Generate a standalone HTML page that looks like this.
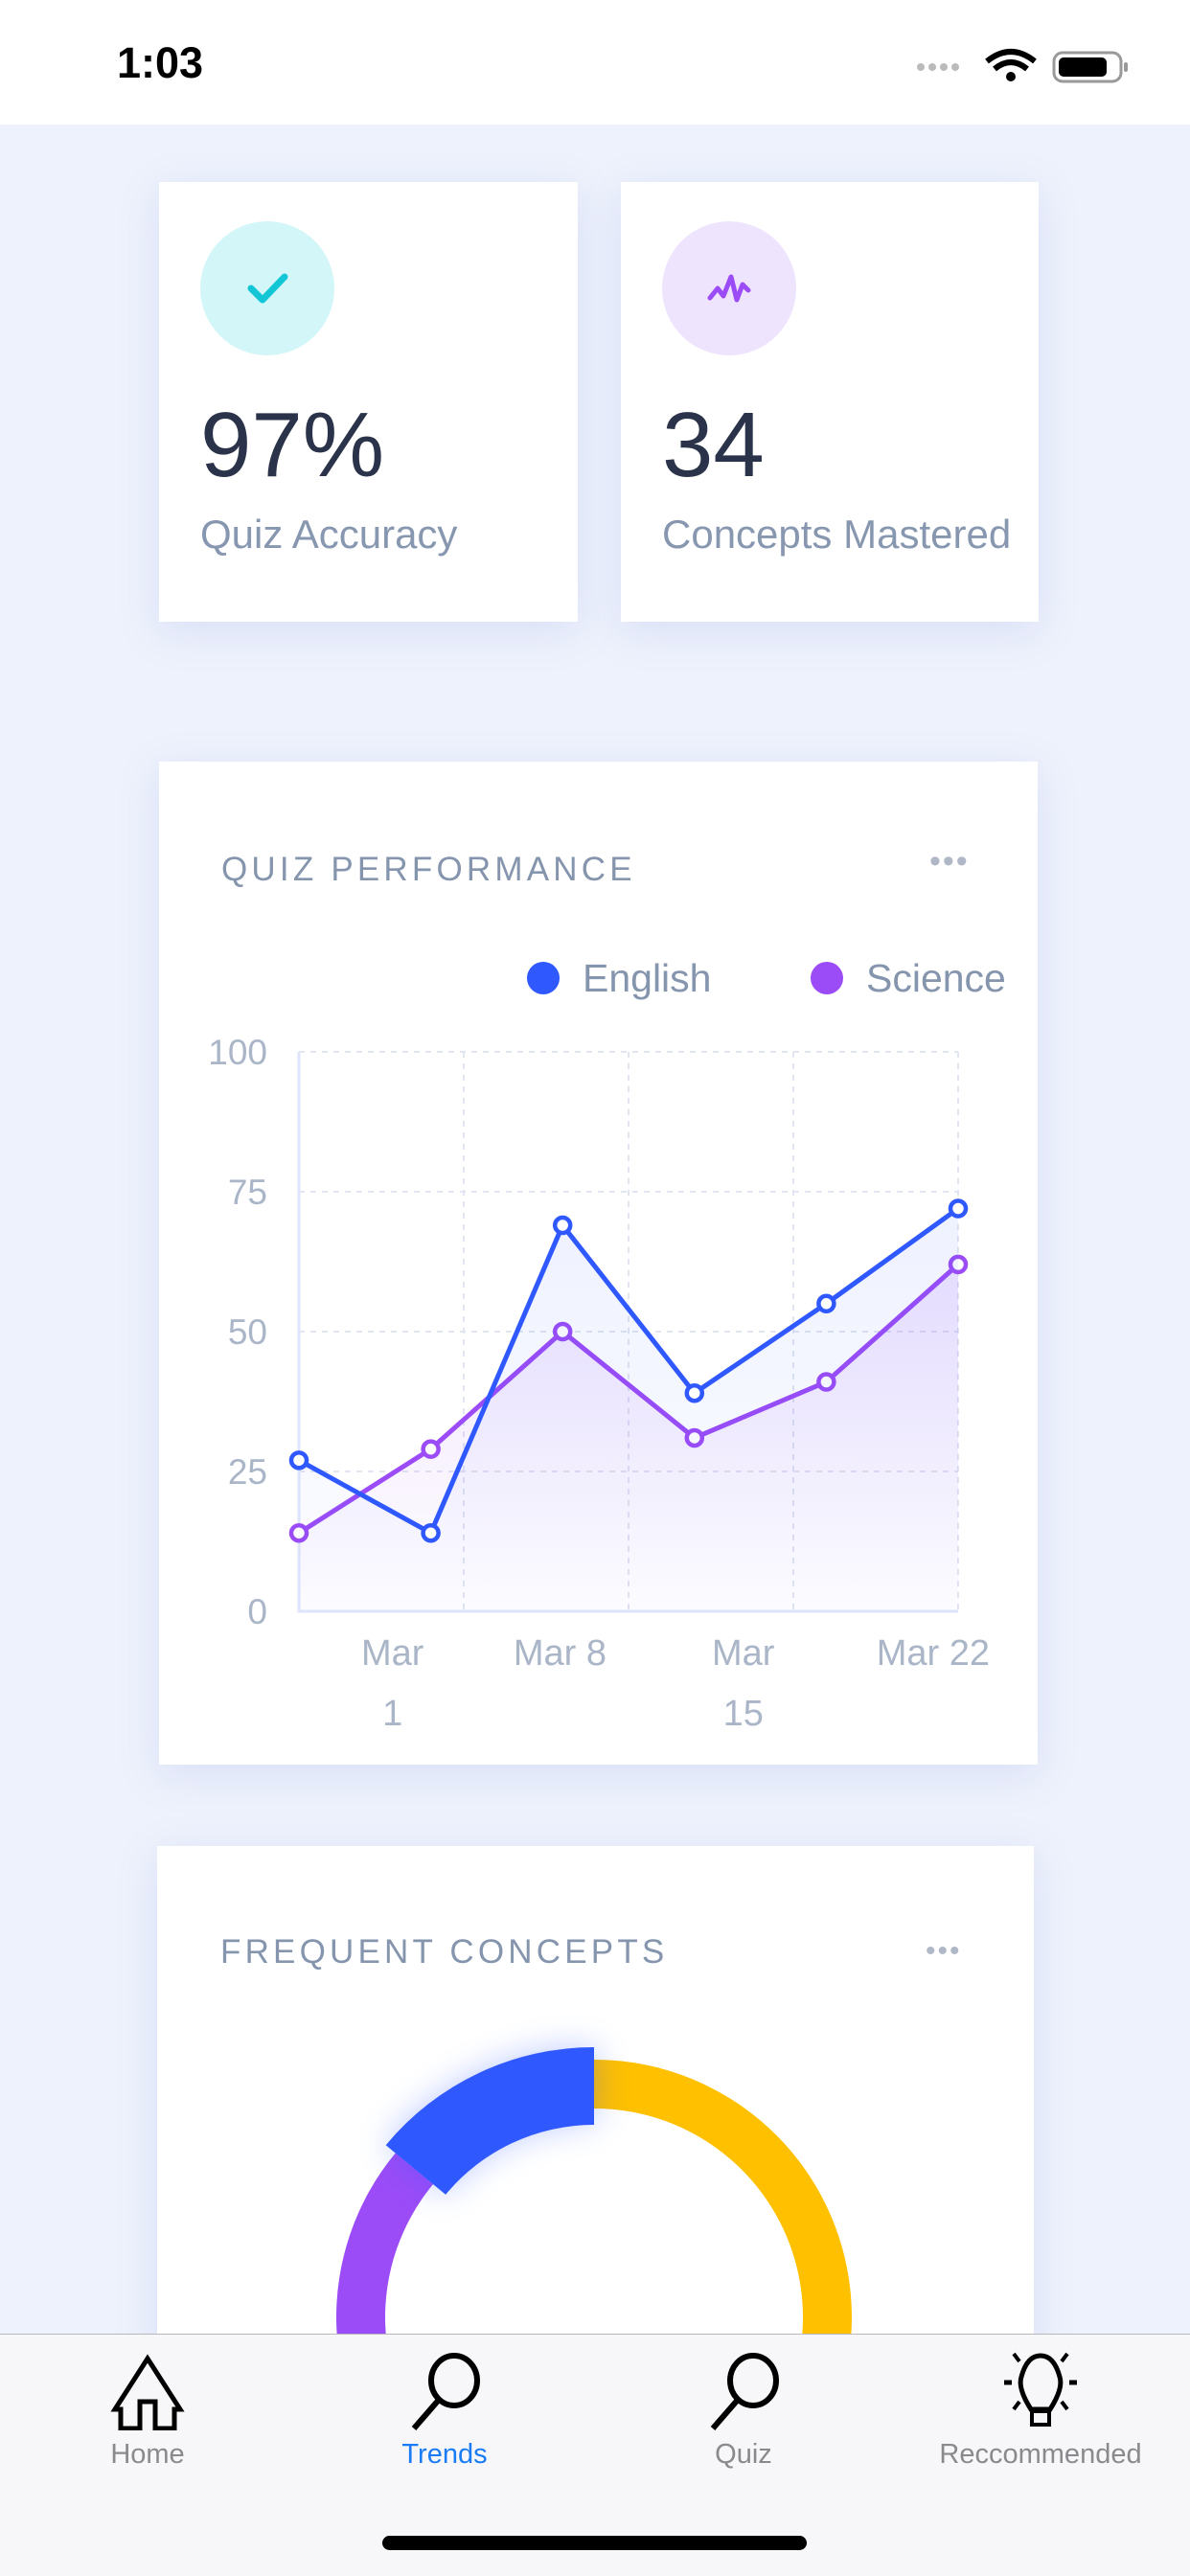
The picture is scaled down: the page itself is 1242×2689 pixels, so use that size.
<!DOCTYPE html>
<html><head><meta charset="utf-8">
<style>
html,body{margin:0;padding:0;}
body{width:1242px;height:2688px;position:relative;overflow:hidden;background:#eef2fc;font-family:"Liberation Sans",sans-serif;}
.status{position:absolute;left:0;top:0;width:1242px;height:130px;background:#fff;}
.card{position:absolute;background:#fff;box-shadow:0 10px 40px rgba(120,140,220,0.18);}
.abs{position:absolute;}
.tab{position:absolute;top:2436px;left:0;width:1242px;height:252px;background:#f7f7f9;border-top:1px solid #b8b8bc;}
.tablabel{position:absolute;top:109px;font-size:29px;color:#8a8a8e;transform:translateX(-50%);white-space:nowrap;}
</style></head><body>
<div class="status">
  <div class="abs" style="left:122px;top:40px;font-size:45px;font-weight:bold;color:#000">1:03</div>
  <svg class="abs" style="left:955px;top:50px" width="230" height="40">
    <circle cx="6" cy="20" r="4" fill="#bbb"/><circle cx="18" cy="20" r="4" fill="#bbb"/><circle cx="30" cy="20" r="4" fill="#bbb"/><circle cx="42" cy="20" r="4" fill="#bbb"/>
    <path d="M75 14 Q100 -6 125 14" stroke="#000" stroke-width="6" fill="none"/><path d="M83 22 Q100 8 117 22" stroke="#000" stroke-width="6" fill="none"/><circle cx="100" cy="30" r="5" fill="#000"/>
    <rect x="145" y="5" width="70" height="30" rx="9" fill="none" stroke="#999" stroke-width="3"/><rect x="150" y="10" width="50" height="20" rx="5" fill="#000"/><rect x="218" y="15" width="4" height="10" rx="2" fill="#999"/>
  </svg>
</div>

<div class="card" style="left:166px;top:190px;width:437px;height:459px">
  <div class="abs" style="left:43px;top:41px;width:140px;height:140px;border-radius:50%;background:#d3f6f8">
    <svg width="140" height="140"><path d="M53 70 L65 82 L88 58" stroke="#12c6d6" stroke-width="7" fill="none" stroke-linecap="round" stroke-linejoin="round"/></svg>
  </div>
  <div class="abs" style="left:43px;top:220px;font-size:96px;color:#2a3349">97%</div>
  <div class="abs" style="left:43px;top:344px;font-size:42px;color:#8797b0">Quiz Accuracy</div>
</div>
<div class="card" style="left:648px;top:190px;width:436px;height:459px">
  <div class="abs" style="left:43px;top:41px;width:140px;height:140px;border-radius:50%;background:#efe4fd">
    <svg width="140" height="140"><path d="M50 80 L58 70 L64 78 L72 58 L78 82 L84 66 L90 72" stroke="#9b4cf7" stroke-width="5" fill="none" stroke-linecap="round" stroke-linejoin="round"/></svg>
  </div>
  <div class="abs" style="left:43px;top:220px;font-size:96px;color:#2a3349">34</div>
  <div class="abs" style="left:43px;top:344px;font-size:42px;color:#8797b0">Concepts Mastered</div>
</div>

<div class="card" style="left:166px;top:795px;width:917px;height:1047px"></div>
<div class="abs" style="left:231px;top:888px;font-size:35px;letter-spacing:4.2px;color:#8595ad">QUIZ PERFORMANCE</div>
<div class="abs" style="left:970px;top:880px;font-size:34px;color:#b0b8c8;letter-spacing:2px">•••</div>
<svg id="chart" class="abs" style="left:0;top:0" width="1242" height="1900"></svg>

<div class="card" style="left:164px;top:1927px;width:915px;height:700px"></div>
<div class="abs" style="left:230px;top:2018px;font-size:35px;letter-spacing:4.2px;color:#8595ad">FREQUENT CONCEPTS</div>
<div class="abs" style="left:966px;top:2020px;font-size:30px;color:#b0b8c8;letter-spacing:2px">•••</div>
<svg id="donut" class="abs" style="left:0;top:0" width="1242" height="2688">
  <defs><filter id="glow" x="-50%" y="-50%" width="200%" height="200%"><feGaussianBlur stdDeviation="18"/></filter></defs>
</svg>

<div class="tab">
  <svg class="abs" style="left:112px;top:20px" width="84" height="80"><path d="M8 58 L42 5 L76 58 L70 58 L70 78 L50 78 L50 50 L34 50 L34 78 L14 78 L14 58 Z" stroke="#000" stroke-width="5" fill="none"/></svg>
  <svg class="abs" style="left:424px;top:18px" width="84" height="84"><ellipse cx="50" cy="30" rx="24" ry="26" stroke="#000" stroke-width="6" fill="none"/><line x1="34" y1="50" x2="8" y2="80" stroke="#000" stroke-width="6"/></svg>
  <svg class="abs" style="left:736px;top:18px" width="84" height="84"><ellipse cx="50" cy="30" rx="24" ry="26" stroke="#000" stroke-width="6" fill="none"/><line x1="34" y1="50" x2="8" y2="80" stroke="#000" stroke-width="6"/></svg>
  <svg class="abs" style="left:1044px;top:16px" width="84" height="88"><path d="M32 62 Q18 40 22 28 Q28 6 42 6 Q56 6 62 28 Q66 40 52 62 Z" stroke="#000" stroke-width="5" fill="none"/><rect x="33" y="64" width="18" height="14" stroke="#000" stroke-width="4" fill="none"/><line x1="4" y1="34" x2="12" y2="34" stroke="#000" stroke-width="5"/><line x1="72" y1="34" x2="80" y2="34" stroke="#000" stroke-width="5"/><line x1="14" y1="4" x2="20" y2="12" stroke="#000" stroke-width="4"/><line x1="70" y1="4" x2="64" y2="12" stroke="#000" stroke-width="4"/><line x1="14" y1="62" x2="20" y2="54" stroke="#000" stroke-width="4"/><line x1="70" y1="62" x2="64" y2="54" stroke="#000" stroke-width="4"/></svg>
  <div class="tablabel" style="left:154px">Home</div>
  <div class="tablabel" style="left:464px;color:#1a7cf5">Trends</div>
  <div class="tablabel" style="left:776px">Quiz</div>
  <div class="tablabel" style="left:1086px">Reccommended</div>
  <div class="abs" style="left:399px;top:210px;width:443px;height:15px;border-radius:8px;background:#000"></div>
</div>

<script>
const points = ["p1","p2","p3","p4","p5","p6"];
const englishValues = [27, 14, 69, 39, 55, 72];
const scienceValues = [14, 29, 50, 31, 41, 62];
const yTicks = [0, 25, 50, 75, 100];
const xTickLabels = [["Mar","1"],["Mar 8"],["Mar","15"],["Mar 22"]];
const xTickPos = [0.71, 1.98, 3.37, 4.81];
const conceptValues = [40, 46, 14];

const NS = "http://www.w3.org/2000/svg";
const svg = document.getElementById('chart');
const L = 312, R = 1000, T = 1098, B = 1682;
const x = i => L + (R - L) * i / (points.length - 1);
const y = v => B - (B - T) * v / 100;
function mk(tag, attrs, parent) {
  const e = document.createElementNS(NS, tag);
  for (const k in attrs) e.setAttribute(k, attrs[k]);
  (parent || svg).appendChild(e);
  return e;
}
const defs = mk('defs', {});
defs.innerHTML = '<linearGradient id="gE" x1="0" y1="0" x2="0" y2="1"><stop offset="0" stop-color="#3058ff" stop-opacity="0.08"/><stop offset="1" stop-color="#3058ff" stop-opacity="0.01"/></linearGradient><linearGradient id="gS" x1="0" y1="0" x2="0" y2="1"><stop offset="0" stop-color="#9b4cf7" stop-opacity="0.14"/><stop offset="1" stop-color="#9b4cf7" stop-opacity="0.01"/></linearGradient>';

yTicks.forEach(t => {
  if (t > 0) {
    const g = mk('line', {x1: L, x2: R, y1: y(t), y2: y(t), stroke: '#e1e6f2', 'stroke-width': 2, 'stroke-dasharray': '6 6'});
    
    
  }
  const tx = mk('text', {x: 279, y: y(t) + 13, 'text-anchor': 'end', 'font-size': 37, fill: '#aab6c8', 'font-family': 'Liberation Sans'});
  tx.textContent = t;
  
  
});
[1, 2, 3, 4].forEach(k => {
  const xx = L + (R - L) * k / 4;
  const g = mk('line', {x1: xx, x2: xx, y1: T, y2: B, stroke: '#e1e6f2', 'stroke-width': 2, 'stroke-dasharray': '6 6'});
  
  
});
const ax = mk('path', {d: `M${L} ${T} L${L} ${B} L${R} ${B}`, stroke: '#dfe6fb', 'stroke-width': 3, fill: 'none'});



xTickLabels.forEach((lab, i) => {
  const t = mk('text', {x: x(xTickPos[i]), y: 1738, 'text-anchor': 'middle', 'font-size': 38, fill: '#aab6c8', 'font-family': 'Liberation Sans'});
  lab.forEach((ln, j) => { const ts = mk('tspan', {x: x(xTickPos[i]), dy: j ? 63 : 0}, t); ts.textContent = ln; });
  
  
});

function series(vals, color, grad, name) {
  const pts = vals.map((v, i) => `${x(i)},${y(v)}`).join(' L');
  const area = mk('path', {d: `M${x(0)},${B} L${pts} L${x(vals.length - 1)},${B} Z`, fill: `url(#${grad})`});
  
  
  const ln = mk('path', {d: 'M' + pts, stroke: color, 'stroke-width': 5, fill: 'none', 'stroke-linejoin': 'round'});
  
  
  vals.forEach((v, i) => {
    const c = mk('circle', {cx: x(i), cy: y(v), r: 8, fill: '#fff', stroke: color, 'stroke-width': 4.5});
    
    
  });
}
series(scienceValues, '#9b4cf7', 'gS', 'science');
series(englishValues, '#3058ff', 'gE', 'english');

[[567, '#3058ff', 'English'], [863, '#9b4cf7', 'Science']].forEach(([lx, col, nm]) => {
  const c = mk('circle', {cx: lx, cy: 1021, r: 17, fill: col});
  
  
  const t = mk('text', {x: lx + 41, y: 1035, 'font-size': 41, fill: '#8595ad', 'font-family': 'Liberation Sans'});
  t.textContent = nm;
  
  
});

const dsvg = document.getElementById('donut');
const cx = 620, cy = 2419;
const total = conceptValues.reduce((a, b) => a + b, 0);
const colors = ['#ffc000', '#9b4cf7', '#2f58ff'];
function arcPath(a0, a1, ro, ri) {
  const p = (a, r) => `${cx + r * Math.cos(a)},${cy + r * Math.sin(a)}`;
  const large = (a1 - a0) > Math.PI ? 1 : 0;
  return `M${p(a0, ro)} A${ro},${ro} 0 ${large} 1 ${p(a1, ro)} L${p(a1, ri)} A${ri},${ri} 0 ${large} 0 ${p(a0, ri)} Z`;
}
let acc = 0;
conceptValues.forEach((v, i) => {
  const a0 = -Math.PI / 2 + 2 * Math.PI * acc / total;
  const a1 = -Math.PI / 2 + 2 * Math.PI * (acc + v) / total;
  acc += v;
  const big = i === 2;
  if (big) {
    const gl = mk('path', {d: arcPath(a0, a1, 280, 205), fill: '#2f58ff', opacity: 0.35, filter: 'url(#glow)'}, dsvg);
    
    
  }
  const s = mk('path', {d: arcPath(a0, a1, big ? 282 : 269, big ? 201 : 218), fill: colors[i]}, dsvg);
  
  
});
</script>
</body></html>
